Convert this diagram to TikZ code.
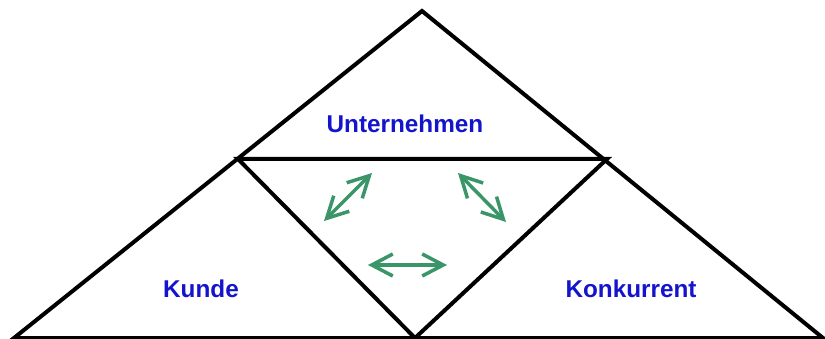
\documentclass[tikz,border=0pt]{standalone}
\usepackage{fontspec}
\setmainfont{Liberation Sans}
\usetikzlibrary{arrows.meta,positioning}
\definecolor{textblau}{RGB}{20,20,205}
\definecolor{pfeilgruen}{RGB}{58,150,104}

\begin{document}
\begin{tikzpicture}[
  x=1pt,y=-1pt,
  kante/.style={line width=4pt,line join=miter},
  feld/.style={text=textblau,font=\fontsize{24.3}{26}\selectfont\bfseries,inner sep=0pt},
  wechsel/.style={{Straight Barb[length=21pt,width=22pt,line width=3.5pt]}-{Straight Barb[length=21pt,width=22pt,line width=3.5pt]},pfeilgruen,line width=3.5pt}
]
\useasboundingbox (0,0) rectangle (825,339);
% Eckpunkte
\coordinate (spitze) at (422,11);
\coordinate (lu) at (14,338);
\coordinate (ru) at (823,338);
\coordinate (ml) at (238,159);
\coordinate (mr) at (607,159);
\coordinate (mu) at (415,338);
% Dreiecke
\draw[kante] (lu)--(spitze)--(ru)--cycle;
\draw[kante] (ml)--(mr)--(mu)--cycle;
% Beschriftungen
\node[feld] (unt) at (405,124) {Unternehmen};
\node[feld] (kun) at (201,289) {Kunde};
\node[feld] (kon) at (631,289) {Konkurrent};
% Wechselbeziehungen
\coordinate (a1) at (324,221);
\coordinate (a2) at (372,173);
\coordinate (b1) at (458,173);
\coordinate (b2) at (506,222);
\coordinate (c1) at (368,265);
\coordinate (c2) at (447,265);
\draw[wechsel] (a1)--(a2);
\draw[wechsel] (b1)--(b2);
\draw[wechsel] (c1)--(c2);
\end{tikzpicture}
\end{document}
